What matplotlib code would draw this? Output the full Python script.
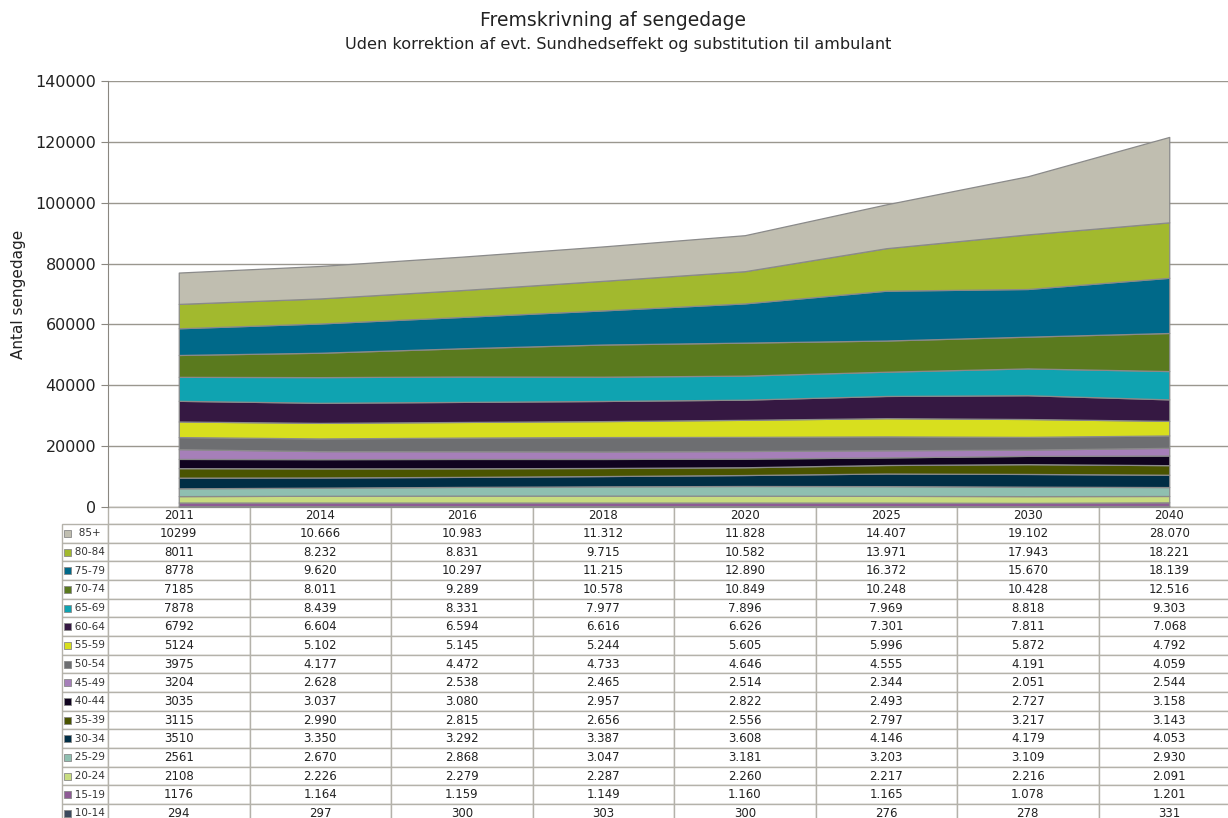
import matplotlib.pyplot as plt
from matplotlib.patches import Rectangle

years = ["2011", "2014", "2016", "2018", "2020", "2025", "2030", "2040"]
groups = ["85+", "80-84", "75-79", "70-74", "65-69", "60-64", "55-59", "50-54",
          "45-49", "40-44", "35-39", "30-34", "25-29", "20-24", "15-19", "10-14"]

v_85 = [10299, 10666, 10983, 11312, 11828, 14407, 19102, 28070]
v_80 = [8011, 8232, 8831, 9715, 10582, 13971, 17943, 18221]
v_75 = [8778, 9620, 10297, 11215, 12890, 16372, 15670, 18139]
v_70 = [7185, 8011, 9289, 10578, 10849, 10248, 10428, 12516]
v_65 = [7878, 8439, 8331, 7977, 7896, 7969, 8818, 9303]
v_60 = [6792, 6604, 6594, 6616, 6626, 7301, 7811, 7068]
v_55 = [5124, 5102, 5145, 5244, 5605, 5996, 5872, 4792]
v_50 = [3975, 4177, 4472, 4733, 4646, 4555, 4191, 4059]
v_45 = [3204, 2628, 2538, 2465, 2514, 2344, 2051, 2544]
v_40 = [3035, 3037, 3080, 2957, 2822, 2493, 2727, 3158]
v_35 = [3115, 2990, 2815, 2656, 2556, 2797, 3217, 3143]
v_30 = [3510, 3350, 3292, 3387, 3608, 4146, 4179, 4053]
v_25 = [2561, 2670, 2868, 3047, 3181, 3203, 3109, 2930]
v_20 = [2108, 2226, 2279, 2287, 2260, 2217, 2216, 2091]
v_15 = [1176, 1164, 1159, 1149, 1160, 1165, 1078, 1201]
v_10 = [294, 297, 300, 303, 300, 276, 278, 331]

series = [v_85, v_80, v_75, v_70, v_65, v_60, v_55, v_50,
          v_45, v_40, v_35, v_30, v_25, v_20, v_15, v_10]
colors = ["#c0beb0", "#a2b92e", "#006989", "#5a7a1e", "#0fa3b1", "#351842",
          "#d8df1e", "#6d6e71", "#a67fb9", "#10031f", "#4a5400", "#002e45",
          "#8fbfb0", "#c8dc80", "#8e5a95", "#3b4a5e"]

W, H = 1228, 818
fig = plt.figure(figsize=(W / 100, H / 100), dpi=100)
plt.rcParams['font.family'] = ['DejaVu Sans']

ax_l, ax_r, ax_t, ax_b = 108, 1240, 81, 507
ax = fig.add_axes([ax_l / W, (H - ax_b) / H, (ax_r - ax_l) / W, (ax_b - ax_t) / H])

x = list(range(len(years)))
ax.stackplot(x, series[::-1], colors=colors[::-1], edgecolor="#8a8a8a", linewidth=0.9)

ax.set_xlim(-0.5, len(years) - 0.5)
ax.set_ylim(0, 140000)
ax.set_yticks(range(0, 140001, 20000))
ax.tick_params(axis="y", labelsize=11.5, length=5, color="#8a8780", labelcolor="#222222")
ax.set_xticks([])
ax.yaxis.grid(True, color="#9a978f", linewidth=1)
ax.set_axisbelow(True)
for s in ["top", "right", "bottom"]:
    ax.spines[s].set_visible(False)
ax.spines["left"].set_color("#8a8780")
ax.set_ylabel("Antal sengedage", fontsize=11, color="#222222")
ax.yaxis.set_label_coords(-(ax_l - 26) / (ax_r - ax_l), 0.5)

fig.text(613 / W, 1 - 20 / H, "Fremskrivning af sengedage", ha="center", va="center",
         fontsize=13.5, color="#222222")
fig.text(618 / W, 1 - 45 / H, "Uden korrektion af evt. Sundhedseffekt og substitution til ambulant",
         ha="center", va="center", fontsize=11.6, color="#222222")

# data table below the chart
def fmt(v, j):
    if j == 0:
        return str(v)
    return f"{v:,}".replace(",", ".")

cell_text = [["   " + g] + [fmt(v, j) for j, v in enumerate(row)]
             for g, row in zip(groups, series)]

hdr_h, row_h, lab_w = 17, 18.67, 46
ax_h = ax_b - ax_t
ax_w = ax_r - ax_l
col_w = ax_w / len(years)
tot_h = hdr_h + len(groups) * row_h
tbl = ax.table(cellText=cell_text, colLabels=[""] + years,
               colWidths=[lab_w] + [col_w] * len(years),
               cellLoc="center",
               bbox=[-lab_w / ax_w, -tot_h / ax_h, 1 + lab_w / ax_w, tot_h / ax_h])
tbl.auto_set_font_size(False)
for (r, c), cell in tbl.get_celld().items():
    cell.set_edgecolor("#b4b2aa")
    cell.set_linewidth(1)
    cell.get_text().set_fontsize(8.5)
    cell.get_text().set_color("#222222")
    cell.set_height(hdr_h if r == 0 else row_h)
    if c == 0:
        cell.get_text().set_fontsize(7.5)
        cell.get_text().set_color("#333333")
        cell.PAD = 0.02
        cell._loc = "left"
        if r == 0:
            cell.set_visible(False)

# colour keys in the row labels
for i, col in enumerate(colors):
    yc = ax_b + hdr_h + (i + 0.5) * row_h
    fig.add_artist(Rectangle((64 / W, 1 - (yc + 3.5) / H), 7 / W, 7 / H,
                             facecolor=col, edgecolor="#8a8a8a", linewidth=0.6,
                             transform=fig.transFigure))

fig.savefig("out.png", dpi=100)
